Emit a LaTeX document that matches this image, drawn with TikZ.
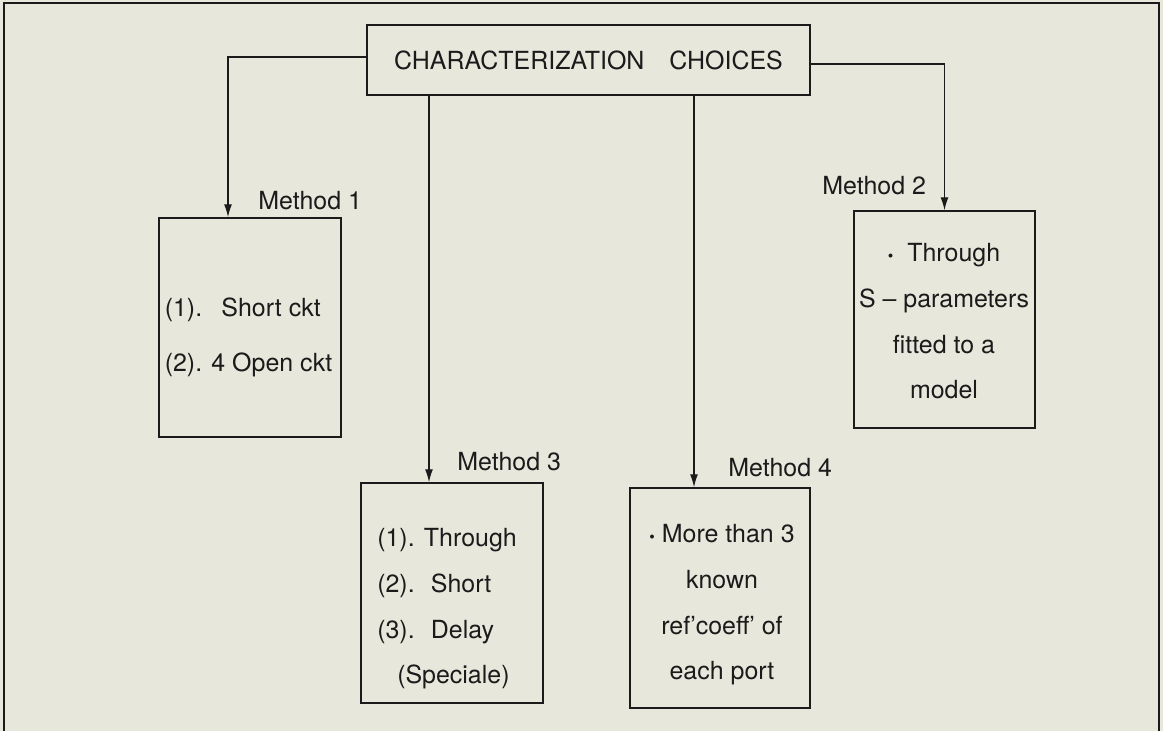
\documentclass[tikz,border=0pt]{standalone}
\usepackage{fontspec}
\setmainfont{TeX Gyre Heros}
\usepackage{tikz}
\usetikzlibrary{arrows.meta}
\definecolor{paper}{RGB}{231,231,220}
\definecolor{ink}{RGB}{28,26,26}
\newcommand{\smalldot}{{\fontsize{9}{9}\selectfont\textbullet}}

\begin{document}
\begin{tikzpicture}[
font=\fontsize{14.2}{26}\selectfont,
every node/.style={text=ink},
titlebox/.style={rectangle, draw=ink, line width=0.8pt, minimum width=8.86cm, minimum height=1.4cm},
methodbox/.style={rectangle, draw=ink, line width=0.8pt, inner sep=0pt},
methodlabel/.style={anchor=base west, inner sep=0pt},
arr/.style={-{Latex[length=2.6mm,width=1.6mm]}, draw=ink, line width=0.75pt}
]
%Paper
\path[fill=paper,use as bounding box] (0,0) rectangle (23.26,14.62);
\draw[ink,line width=1.1pt] (0.08,0) |- (23.18,14.56) -- (23.18,0);

%Nodes
\node[titlebox] at (11.77,13.42) (CHOICES) {CHARACTERIZATION\quad CHOICES};

\node[methodbox,minimum width=3.64cm,minimum height=4.38cm] at (5.0,8.07) (M1) {};
\node[align=left] at (4.97,7.87) (TXT-1) {(1).\hspace{0.2cm} Short ckt\\[5pt](2). 4 Open ckt};
\node[methodlabel] at (5.16,10.42) (LBL-1) {Method 1};

\node[methodbox,minimum width=3.62cm,minimum height=4.34cm] at (18.89,8.23) (M2) {};
\node[align=center] at (18.88,8.19) (TXT-2) {\smalldot\ \ Through\\S -- parameters\\fitted to a\\model};
\node[methodlabel] at (16.44,10.72) (LBL-2) {Method 2};

\node[methodbox,minimum width=3.64cm,minimum height=4.4cm] at (9.04,2.76) (M3) {};
\node[align=left] at (8.94,2.44) (TXT-3) {(1). Through\\(2).~ Short\\(3).~ Delay\\\hspace*{0.4cm}(Speciale)};
\node[methodlabel] at (9.14,5.2) (LBL-3) {Method 3};

\node[methodbox,minimum width=3.6cm,minimum height=4.4cm] at (14.4,2.66) (M4) {};
\node[align=center] at (14.44,2.52) (TXT-4) {\smalldot\ More than 3\\known\\ref'coeff' of\\each port};
\node[methodlabel] at (14.56,5.08) (LBL-4) {Method 4};

\coordinate (M1-IN) at ([xshift=-0.44cm]M1.north);
\coordinate (M3-IN) at ([xshift=-0.46cm]M3.north);
\coordinate (M4-IN) at ([xshift=-0.52cm]M4.north);

%Lines
\draw[arr] ([yshift=0.06cm]CHOICES.west) -| (M1-IN);
\draw[arr] (CHOICES.south -| M3-IN) -- (M3-IN);
\draw[arr] (CHOICES.south -| M4-IN) -- (M4-IN);
\draw[arr] ([yshift=-0.08cm]CHOICES.east) -| (M2.north);
\end{tikzpicture}
\end{document}
